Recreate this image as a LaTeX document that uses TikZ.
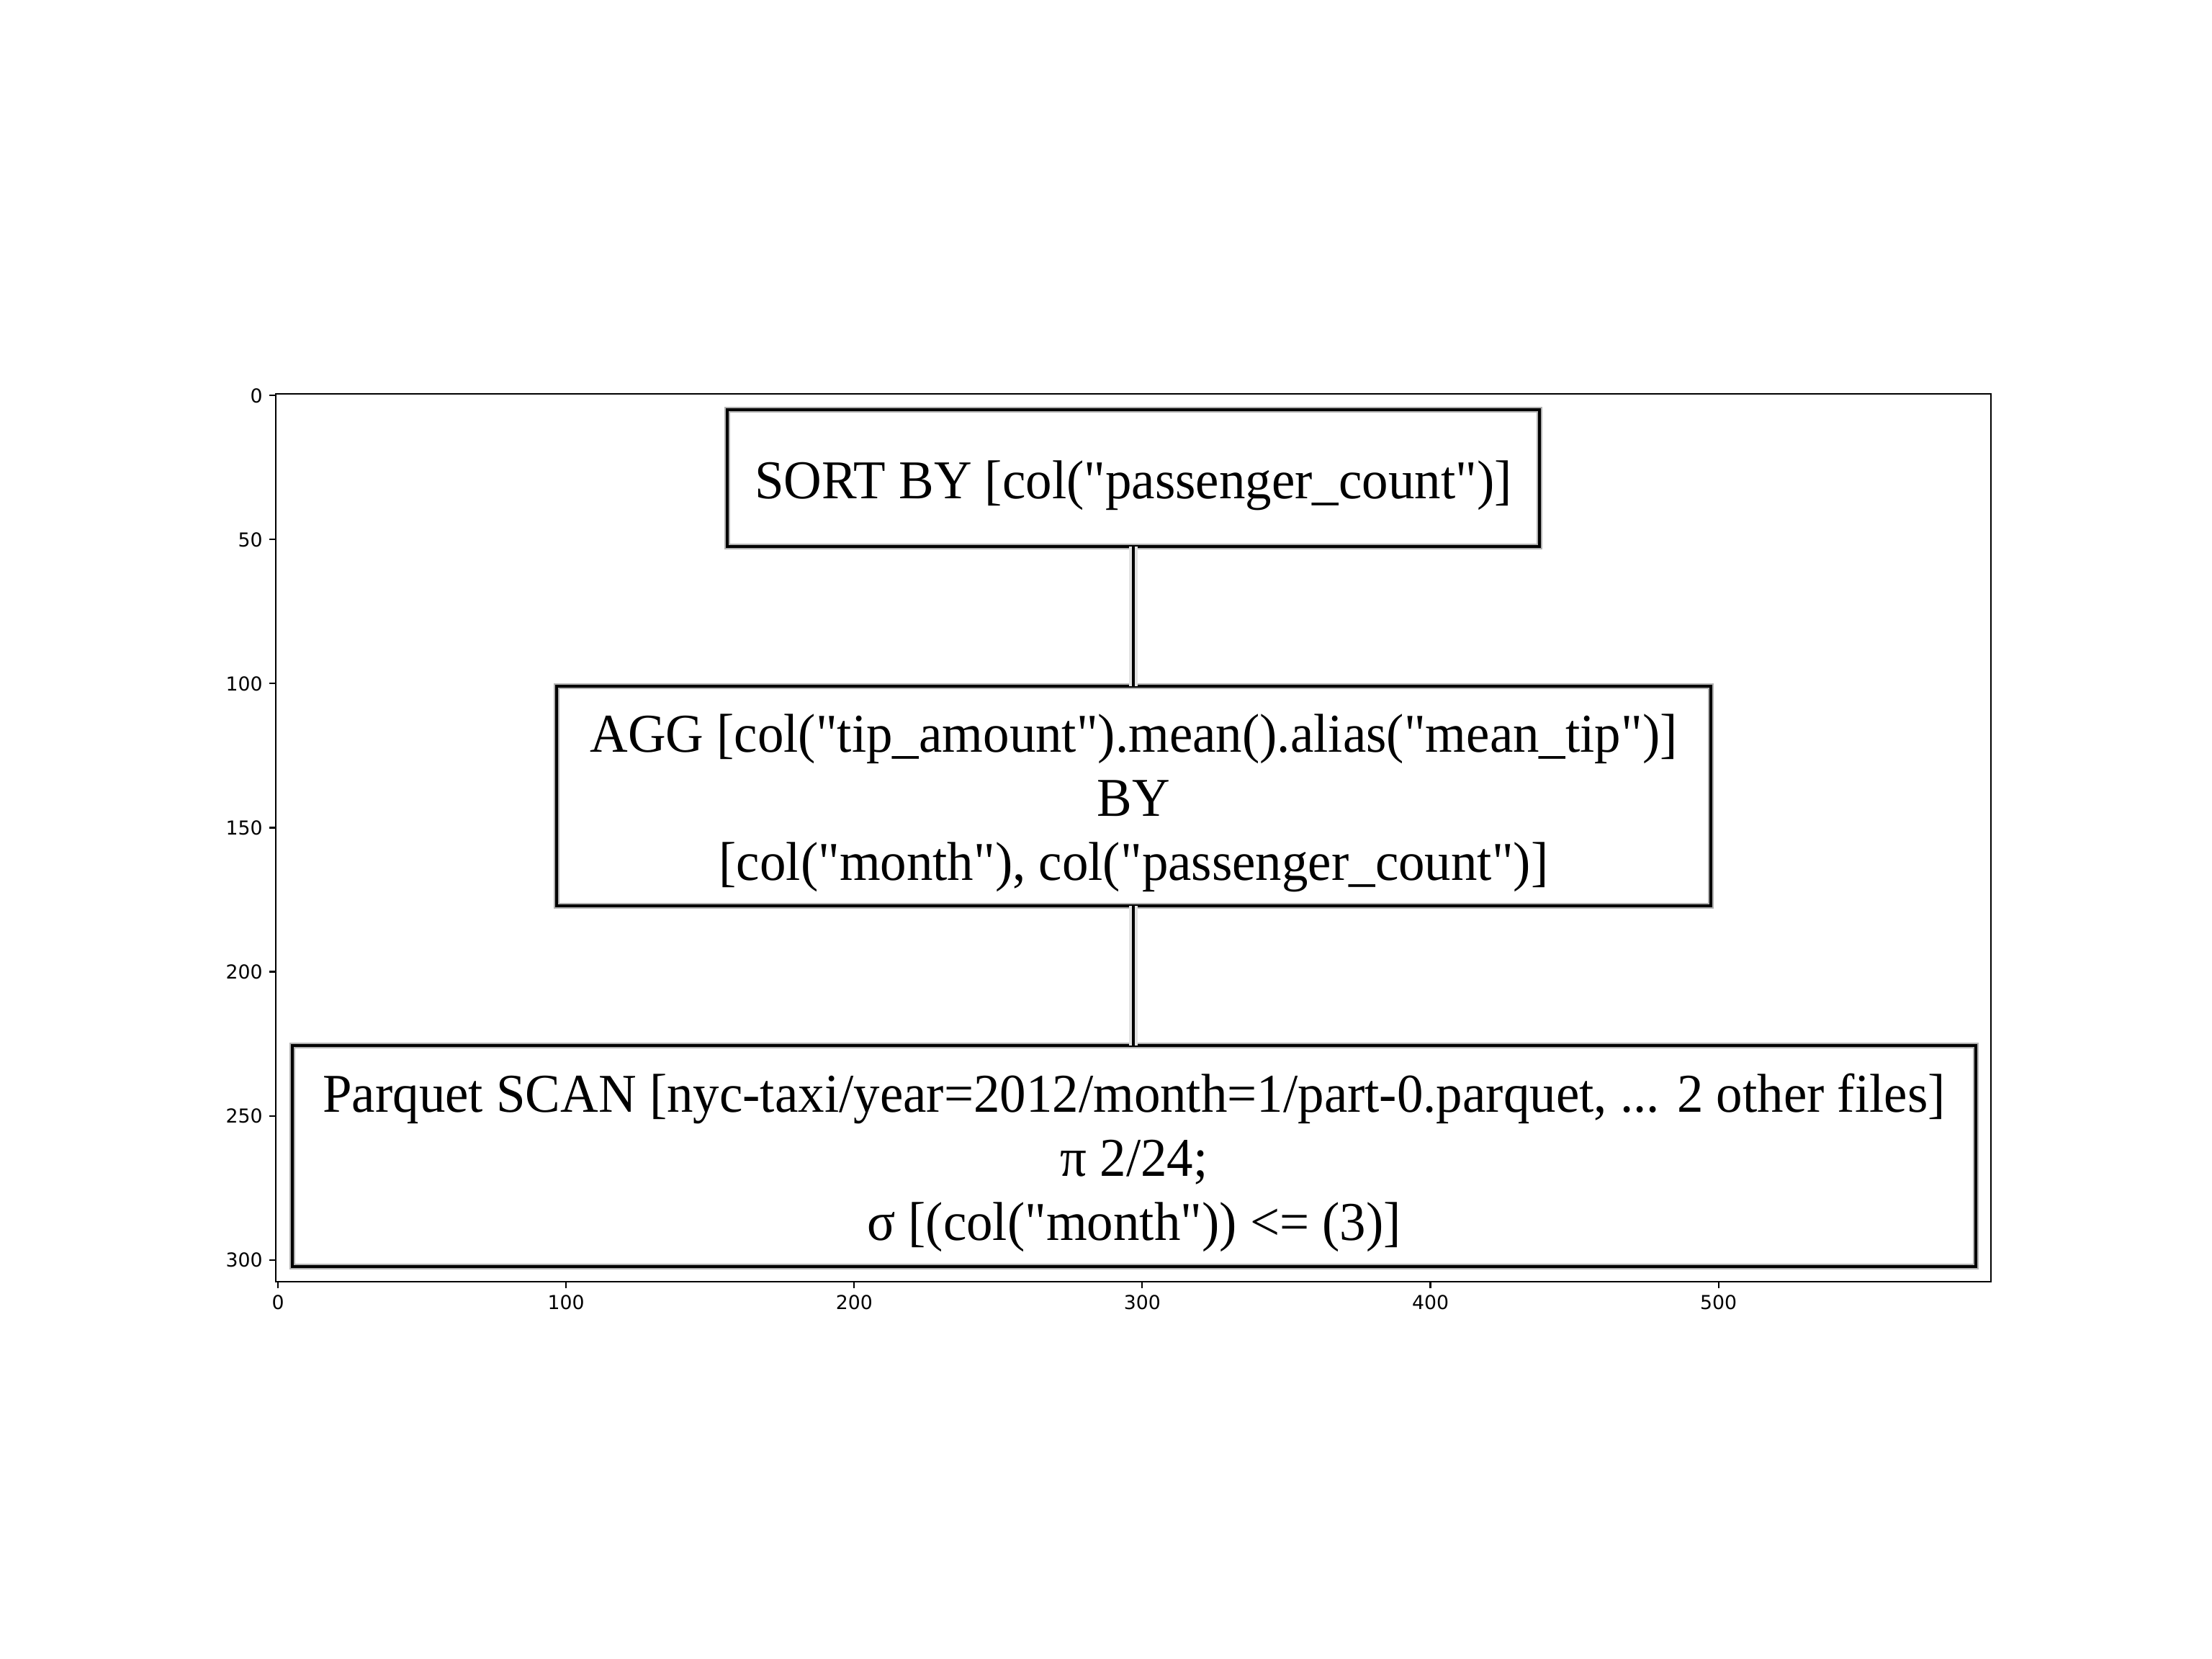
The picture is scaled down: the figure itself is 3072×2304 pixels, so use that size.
\documentclass[tikz,border=0pt]{standalone}
\usepackage{fontspec}
\newfontfamily\gvfont[FakeStretch=0.96]{Liberation Serif}
\newfontfamily\tickfont{DejaVu Sans}
\newcommand\gvstrut{\rule{0pt}{20.7pt}}
\begin{document}
\begin{tikzpicture}[x=0.01cm,y=-0.01cm,
  gvbox/.style={rectangle, draw=black, line width=1.3pt, inner sep=0pt, outer sep=0pt,
    preaction={draw=gray!60, line width=2.4pt},
    font=\gvfont\fontsize{21.6}{25.3}\selectfont, align=center, text=black},
  gvedge/.style={draw=black, line width=1.2pt, preaction={draw=gray!22, line width=3.4pt}},
  spine/.style={draw=black, line width=0.607pt},
  ticklab/.style={font=\tickfont\fontsize{7.59}{9}\selectfont, inner sep=0pt, text=black}]
\useasboundingbox[fill=white] (0,0) rectangle (3072,2304);

% graphviz boxes
\node[gvbox, minimum width=1128*0.01cm, minimum height=190*0.01cm] (sort) at (1574,664)
  {\gvstrut SORT BY [col("passenger\_count")]};
\node[gvbox, minimum width=1603*0.01cm, minimum height=305*0.01cm] (agg) at (1574.5,1105.5)
  {\gvstrut AGG [col("tip\_amount").mean().alias("mean\_tip")]\\BY\\{[}col("month"), col("passenger\_count")]};
\node[gvbox, minimum width=2338*0.01cm, minimum height=307*0.01cm] (scan) at (1575,1605.5)
  {\gvstrut Parquet SCAN [nyc-taxi/year=2012/month=1/part-0.parquet, ... 2 other files]\\π 2/24;\\σ [(col("month")) <= (3)]};

\path[gvedge] (sort.south -| 1574,0) -- (agg.north -| 1574,0);
\path[gvedge] (agg.south -| 1574,0) -- (scan.north -| 1574,0);

% axes frame
\draw[spine] (383.3,547.3) rectangle (2765,1779.7);
\foreach \u in {0,100,...,500}{
  \draw[spine] ({384+(\u+0.5)*4.0013},1779.7) -- ({384+(\u+0.5)*4.0013},1789);
  \node[ticklab, anchor=north] (xl\u) at ({384+(\u+0.5)*4.0013},1797.7) {\u};
}
\foreach \v in {0,50,...,300}{
  \draw[spine] (374,{547.3+(\v+0.5)*4.0013}) -- (383.3,{547.3+(\v+0.5)*4.0013});
  \node[ticklab, anchor=east] (yl\v) at (365.3,{547.3+(\v+0.5)*4.0013}) {\v};
}
\end{tikzpicture}
\end{document}
